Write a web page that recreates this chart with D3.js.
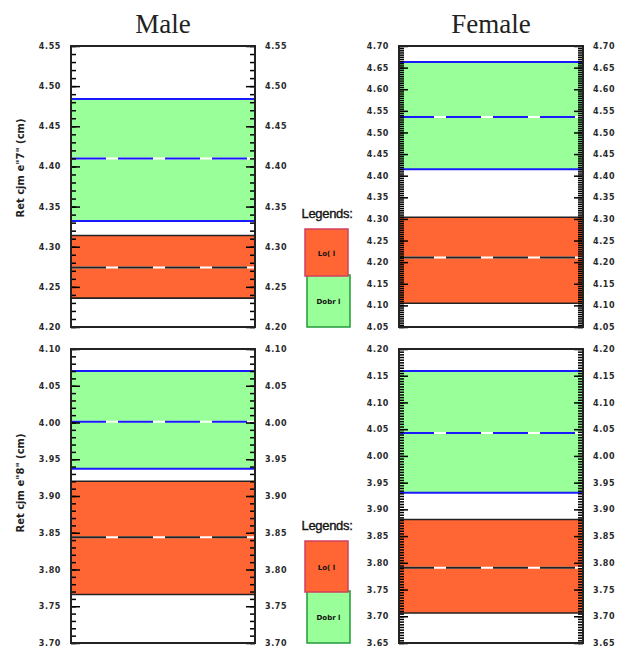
<!DOCTYPE html>
<html><head><meta charset="utf-8">
<script src="https://cdn.jsdelivr.net/npm/d3@7"></script>
<style>body{margin:0;background:#fff}</style>
</head><body><svg id="c" width="627" height="648"></svg>
<script>
// ---- data ----
const columnTitles = ["Male", "Female"];
const rowLabels = ['Ret cjm e"7" (cm)', 'Ret cjm e"8" (cm)'];
const legendTitle = "Legends:";
const legendLabels = ["Lo( l", "Dobr l"];
// panels: male row1, female row1, male row2, female row2
const yMin = [4.20, 4.05, 3.70, 3.65];
const yMax = [4.55, 4.70, 4.10, 4.20];
const majorStep = [0.05, 0.05, 0.05, 0.05];
const minorStep = [0.01, 0.005, 0.01, 0.005];
const goodTop = [4.484, 4.663, 4.070, 4.159];
const goodMid = [4.410, 4.536, 4.001, 4.043];
const goodBottom = [4.332, 4.415, 3.937, 3.931];
const badTop = [4.314, 4.304, 3.920, 3.881];
const badMid = [4.274, 4.211, 3.844, 3.791];
const badBottom = [4.236, 4.105, 3.766, 3.706];

// ---- layout ----
const colX = [[71, 255], [399, 583]];
const rowY = [[46, 327], [349, 643]];
const GREEN = "#99ff99", RED = "#ff6633", BLUE = "#1a1aff";

const svg = d3.select("#c");

function rangeTicks(a, b, s) {
  const n = Math.round((b - a) / s);
  return d3.range(n + 1).map(i => +(a + i * s).toFixed(4));
}

for (let p = 0; p < 4; p++) {
  const col = p % 2, row = Math.floor(p / 2);
  const [x0, x1] = colX[col];
  const [y0, y1] = rowY[row];
  const y = d3.scaleLinear().domain([yMin[p], yMax[p]]).range([y1, y0]);
  const g = svg.append("g");

  // bands
  g.append("rect").attr("x", x0).attr("width", x1 - x0)
    .attr("y", y(goodTop[p])).attr("height", y(goodBottom[p]) - y(goodTop[p]))
    .attr("fill", GREEN);
  g.append("rect").attr("x", x0).attr("width", x1 - x0)
    .attr("y", y(badTop[p])).attr("height", y(badBottom[p]) - y(badTop[p]))
    .attr("fill", RED);

  const hline = (v, color, w) => g.append("line").attr("x1", x0).attr("x2", x1)
    .attr("y1", y(v)).attr("y2", y(v)).attr("stroke", color).attr("stroke-width", w);
  hline(goodTop[p], BLUE, 2);
  hline(goodBottom[p], BLUE, 2);
  hline(badTop[p], "#222", 1.6);
  hline(badBottom[p], "#222", 1.6);
  hline(goodMid[p], "#fff", 2);
  hline(goodMid[p], BLUE, 2).attr("stroke-dasharray", "35,12");
  hline(badMid[p], "#fff", 2);
  hline(badMid[p], "#222", 2).attr("stroke-dasharray", "35,12");

  const majors = rangeTicks(yMin[p], yMax[p], majorStep[p]);
  const minors = rangeTicks(yMin[p], yMax[p], minorStep[p]);

  // minor ticks
  g.append("g").attr("transform", `translate(${x0},0)`)
    .call(d3.axisLeft(y).tickValues(minors).tickSizeInner(-5).tickSizeOuter(0).tickFormat(""))
    .call(a => a.select(".domain").remove());
  g.append("g").attr("transform", `translate(${x1},0)`)
    .call(d3.axisRight(y).tickValues(minors).tickSizeInner(-5).tickSizeOuter(0).tickFormat(""))
    .call(a => a.select(".domain").remove());
  // major ticks with labels
  const fmt = d3.format(".2f");
  const la = g.append("g").attr("transform", `translate(${x0},0)`)
    .call(d3.axisLeft(y).tickValues(majors).tickSizeInner(-9).tickSizeOuter(0).tickPadding(10).tickFormat(fmt));
  const ra = g.append("g").attr("transform", `translate(${x1},0)`)
    .call(d3.axisRight(y).tickValues(majors).tickSizeInner(-9).tickSizeOuter(0).tickPadding(10).tickFormat(fmt));
  [la, ra].forEach(a => {
    a.select(".domain").remove();
    a.selectAll("text").attr("font-family", "DejaVu Sans").attr("font-weight", "bold")
      .attr("font-size", 8).attr("fill", "#2a2a2a").attr("letter-spacing", 0.6);
  });
  g.selectAll("g.tick line").attr("stroke", "#000").attr("stroke-width", 1.5);

  // frame
  g.append("rect").attr("x", x0).attr("y", y0).attr("width", x1 - x0).attr("height", y1 - y0)
    .attr("fill", "none").attr("stroke", "#222").attr("stroke-width", 2);
}

// column titles
columnTitles.forEach((t, i) => {
  svg.append("text").attr("x", (colX[i][0] + colX[i][1]) / 2).attr("y", 33)
    .attr("text-anchor", "middle").attr("font-family", "Liberation Serif")
    .attr("font-size", 27).attr("fill", "#222").text(t);
});

// row labels
const rowLabelCenter = [168, 483];
rowLabels.forEach((t, i) => {
  svg.append("text").attr("transform", `translate(24,${rowLabelCenter[i]}) rotate(-90)`)
    .attr("text-anchor", "middle").attr("font-family", "DejaVu Sans").attr("font-weight", "bold")
    .attr("font-size", 10).attr("fill", "#222").text(t);
});

// legends
const legendY = [218, 530];
const redBox = [[305, 229, 43, 47], [305, 541, 43, 51]];
const greenBox = [[307, 275, 43, 52], [307, 591, 43, 52]];
legendY.forEach((ly, i) => {
  svg.append("text").attr("x", 327).attr("y", ly).attr("text-anchor", "middle")
    .attr("font-family", "Liberation Sans").attr("font-size", 13).attr("letter-spacing", -0.3)
    .attr("fill", "#111").attr("stroke", "#111").attr("stroke-width", 0.35).text(legendTitle);
  const gb = greenBox[i], rb = redBox[i];
  svg.append("rect").attr("x", gb[0]).attr("y", gb[1]).attr("width", gb[2]).attr("height", gb[3])
    .attr("fill", GREEN).attr("stroke", "#22993a").attr("stroke-width", 1.5);
  svg.append("rect").attr("x", rb[0]).attr("y", rb[1]).attr("width", rb[2]).attr("height", rb[3])
    .attr("fill", RED).attr("stroke", "#d04060").attr("stroke-width", 1.5);
  svg.append("text").attr("x", rb[0] + rb[2] / 2).attr("y", rb[1] + rb[3] / 2 + 3)
    .attr("text-anchor", "middle").attr("font-family", "DejaVu Sans").attr("font-weight", "bold")
    .attr("font-size", 7).attr("fill", "#111").text(legendLabels[0]);
  svg.append("text").attr("x", gb[0] + gb[2] / 2).attr("y", gb[1] + gb[3] / 2 + 3)
    .attr("text-anchor", "middle").attr("font-family", "DejaVu Sans").attr("font-weight", "bold")
    .attr("font-size", 7).attr("fill", "#111").text(legendLabels[1]);
});
</script></body></html>
